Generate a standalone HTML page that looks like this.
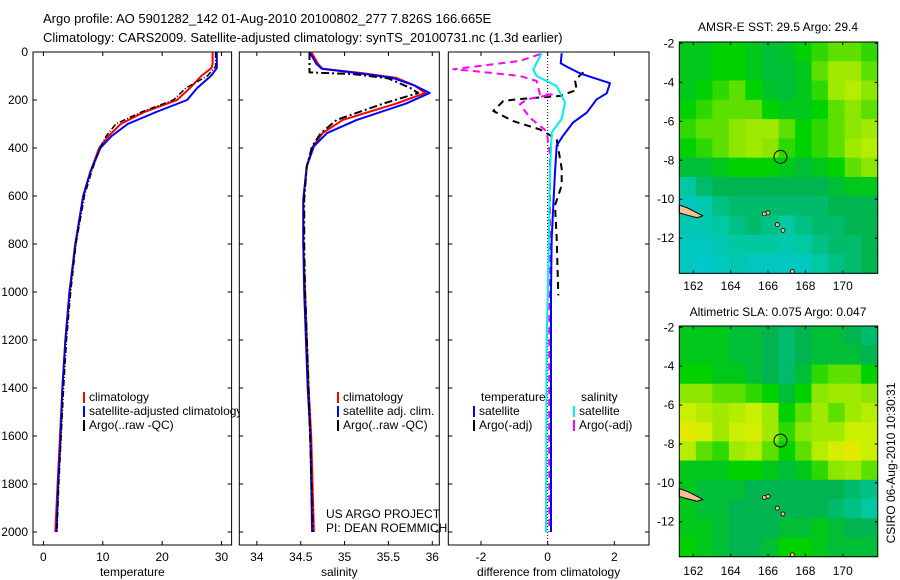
<!DOCTYPE html>
<html><head><meta charset="utf-8"><style>
html,body{margin:0;padding:0;background:#fff;}
svg{display:block;font-family:"Liberation Sans",sans-serif;}
</style></head><body>
<svg id="fig" width="900" height="580" viewBox="0 0 900 580" xmlns="http://www.w3.org/2000/svg">
<g id="plots"></g>
<text x="43" y="23" font-size="13">Argo profile: AO 5901282_142 01-Aug-2010 20100802_277 7.826S 166.665E</text>
<text x="43" y="42" font-size="13">Climatology: CARS2009. Satellite-adjusted climatology: synTS_20100731.nc (1.3d earlier)</text>
<text x="778" y="31" font-size="12" text-anchor="middle">AMSR-E SST: 29.5 Argo: 29.4</text>
<text x="778" y="316" font-size="12" text-anchor="middle">Altimetric SLA: 0.075 Argo: 0.047</text>
<text transform="translate(895,463) rotate(-90)" font-size="12" text-anchor="middle">CSIRO 06-Aug-2010 10:30:31</text>
<text x="326" y="518" font-size="12">US ARGO PROJECT</text>
<text x="326" y="532" font-size="12">PI: DEAN ROEMMICH</text>
</svg>
<script>
// ---- depth profile data ----
const tempDepth = [0,50,67,100,150,200,250,300,350,400,500,600,800,1000,1200,1400,1600,1800,2000];
const tempClim  = [28.5,28.5,28.3,26.6,24.7,22.5,17,13,11,9.4,7.9,6.7,5.35,4.4,3.7,3.2,2.8,2.4,2.0];
const tempSat   = [29.2,29.2,29.2,28.2,25.9,24.2,19,14.2,11.5,9.6,7.9,6.7,5.4,4.4,3.7,3.2,2.9,2.5,2.2];
const argoTDepth= [0,60,100,150,200,250,300,350,400,500,600,800,1000,1200,1400,1600,1800,2000];
const argoTemp  = [29,29,27.6,24,21.9,16.5,12.2,10.6,9.5,8.1,6.9,5.5,4.6,3.9,3.4,3.0,2.6,2.3];
const salDepth  = [0,50,70,88,108,140,171,215,283,338,393,476,615,800,1000,1400,1600,2000];
const salClim   = [34.62,34.7,34.75,35.2,35.59,35.8,35.92,35.59,34.98,34.75,34.64,34.57,34.53,34.53,34.55,34.59,34.62,34.65];
const salSat    = [34.6,34.68,34.74,35.15,35.55,35.8,35.97,35.7,35.14,34.8,34.65,34.57,34.53,34.53,34.54,34.58,34.61,34.63];
const argoSDepth= [0,85,92,110,150,171,215,283,338,393,476,615,800,1000,1400,2000];
const argoSal   = [34.6,34.6,35.1,35.5,35.75,35.84,35.44,34.91,34.73,34.63,34.57,34.54,34.54,34.55,34.59,34.64];
// ---- difference data ----
const dTSatDepth=[5,47,61,89,130,172,197,253,294,349,390,500,639,778,1000,1500,2000];
const dTSat     =[0.42,0.39,0.57,0.97,1.87,1.77,1.47,1.17,0.76,0.46,0.27,0.22,0.17,0.12,0.1,0.1,0.1];
const dSSatDepth=[5,73,100,142,210,279,335,500,917,1200,2000];
const dSSat     =[-0.18,-0.43,-0.33,0.27,0.52,0.42,0.12,0.07,0.02,-0.03,-0.05];
const dTArgoDepth=[84,118,158,183,197,204,246,288,323,351,365,486,556,639,778,1014];
const dTArgo     =[1.07,0.82,0.87,0.37,-0.93,-1.33,-1.63,-1.03,-0.23,0.12,0.27,0.42,0.42,0.22,0.27,0.32];
const dSArgoDepth=[9,37,72,79,100,121,176,177,197,218,274,330,427,566,772,1200,2000];
const dSArgo     =[-0.23,-0.83,-2.83,-2.23,-0.83,-0.33,-0.23,0.15,-0.63,-0.83,-0.53,-0.03,0.07,0.07,0.07,0.05,0.05];
// ---- tick labels ----
const depthTicks=[0,200,400,600,800,1000,1200,1400,1600,1800,2000];
const tempTicks=[0,10,20,30];
const salTicks=[34,34.5,35,35.5,36];
const diffTicks=[-2,0,2];
const lonTicks=[162,164,166,168,170];
const latTicks=[-2,-4,-6,-8,-10,-12];
// ---- map data (rows north->south, cols west->east) ----
const sstGrid=[
[0.45,0.45,0.5,0.5,0.45,0.4,0.42,0.5,0.55,0.6,0.6,0.55],
[0.45,0.45,0.5,0.5,0.45,0.4,0.4,0.45,0.6,0.7,0.7,0.6],
[0.45,0.5,0.55,0.6,0.5,0.42,0.4,0.45,0.55,0.7,0.75,0.65],
[0.5,0.55,0.6,0.6,0.6,0.5,0.45,0.45,0.5,0.6,0.65,0.6],
[0.55,0.6,0.6,0.65,0.7,0.7,0.6,0.5,0.55,0.6,0.65,0.7],
[0.5,0.55,0.6,0.65,0.7,0.65,0.55,0.5,0.55,0.6,0.7,0.75],
[0.4,0.4,0.45,0.5,0.5,0.5,0.45,0.4,0.45,0.5,0.6,0.65],
[0.2,0.3,0.35,0.35,0.35,0.35,0.35,0.35,0.35,0.4,0.45,0.45],
[0.1,0.15,0.25,0.3,0.3,0.3,0.3,0.3,0.3,0.35,0.35,0.35],
[0.15,0.15,0.2,0.25,0.3,0.25,0.2,0.25,0.3,0.3,0.35,0.35],
[0.1,0.1,0.15,0.2,0.2,0.2,0.15,0.2,0.25,0.3,0.3,0.35],
[0.1,0.05,0.1,0.15,0.1,0.1,0.1,0.1,0.2,0.25,0.3,0.35]];
const slaGrid=[
[0.45,0.45,0.45,0.4,0.4,0.35,0.3,0.35,0.4,0.4,0.35,0.3],
[0.45,0.45,0.45,0.4,0.4,0.35,0.3,0.35,0.4,0.4,0.4,0.35],
[0.5,0.5,0.45,0.45,0.4,0.35,0.3,0.4,0.55,0.6,0.6,0.5],
[0.65,0.65,0.6,0.6,0.55,0.5,0.4,0.5,0.65,0.7,0.7,0.65],
[0.8,0.75,0.7,0.75,0.8,0.7,0.5,0.6,0.7,0.6,0.7,0.75],
[0.9,0.85,0.7,0.8,0.85,0.7,0.55,0.65,0.7,0.7,0.8,0.8],
[0.75,0.6,0.55,0.7,0.75,0.6,0.5,0.6,0.75,0.85,0.9,0.8],
[0.45,0.45,0.45,0.5,0.5,0.45,0.4,0.45,0.55,0.65,0.7,0.6],
[0.45,0.4,0.4,0.4,0.35,0.35,0.35,0.35,0.35,0.35,0.3,0.25],
[0.45,0.4,0.4,0.35,0.35,0.35,0.35,0.35,0.35,0.3,0.25,0.2],
[0.45,0.45,0.4,0.35,0.35,0.35,0.4,0.4,0.45,0.4,0.35,0.35],
[0.5,0.45,0.4,0.35,0.35,0.4,0.5,0.5,0.45,0.4,0.4,0.4]];
const argoLon=166.665, argoLat=-7.826;

const NS='http://www.w3.org/2000/svg';
const root=document.getElementById('plots');
function mk(tag,attrs,parent){const e=document.createElementNS(NS,tag);for(const k in attrs)e.setAttribute(k,attrs[k]);(parent||root).appendChild(e);return e;}

const yTop=52, yBot=545;
const depthY=d=>52+d*0.24;

function panel(name,x0,x1,xmin,xmax,xticks,xlabel,showY){
  const g=mk('g',{});
  
  
  const sx=v=>x0+(v-xmin)/(xmax-xmin)*(x1-x0);
  mk('rect',{x:x0,y:yTop,width:x1-x0,height:yBot-yTop,fill:'#fff',stroke:'#000','stroke-width':1},g);
  depthTicks.forEach(d=>{const y=depthY(d);
    mk('line',{x1:x0,y1:y,x2:x0+4,y2:y,stroke:'#000'},g);
    mk('line',{x1:x1-4,y1:y,x2:x1,y2:y,stroke:'#000'},g);
    if(showY){const t=mk('text',{x:x0-5,y:y+4,'font-size':12,'text-anchor':'end'},g);t.textContent=d;
      
      }
  });
  xticks.forEach(v=>{const x=sx(v);
    mk('line',{x1:x,y1:yBot,x2:x,y2:yBot-4,stroke:'#000'},g);
    mk('line',{x1:x,y1:yTop,x2:x,y2:yTop+4,stroke:'#000'},g);
    const t=mk('text',{x:x,y:561,'font-size':12,'text-anchor':'middle'},g);t.textContent=v;
    
    
  });
  const t=mk('text',{x:(x0+x1)/2,y:576,'font-size':12,'text-anchor':'middle'},g);t.textContent=xlabel;
  
  
  return {g,sx};
}
function series(p,name,depths,vals,color,w,dash){
  const pts=depths.map((d,i)=>p.sx(vals[i]).toFixed(1)+','+depthY(d).toFixed(1)).join(' ');
  const a={points:pts,fill:'none',stroke:color,'stroke-width':w,'stroke-linejoin':'round'};
  if(dash)a['stroke-dasharray']=dash;
  const l=mk('polyline',a,p.g);
  
  
}
function legend(g,x,y,color,label,name){
  mk('rect',{x:x,y:y-9,width:2,height:11,fill:color},g);
  const t=mk('text',{x:x+6,y:y,'font-size':12},g);t.textContent=label;
  
  
}

const p1=panel('temperature-panel',33,231.6,-1.75,31.7,tempTicks,'temperature',true);
series(p1,'temp-climatology-line',tempDepth,tempClim,'#f00',2);
series(p1,'temp-satellite-line',tempDepth,tempSat,'#00f',2);
series(p1,'temp-argo-line',argoTDepth,argoTemp,'#000',1.5,'6 2 1 2');
legend(p1.g,83,401,'#f00','climatology','legend-climatology');
legend(p1.g,83,415,'#00f','satellite-adjusted climatology','legend-satellite');
legend(p1.g,83,429,'#000','Argo(..raw -QC)','legend-argo');

const p2=panel('salinity-panel',239.3,439.3,33.8,36.08,salTicks,'salinity',false);
series(p2,'sal-climatology-line',salDepth,salClim,'#f00',2);
series(p2,'sal-satellite-line',salDepth,salSat,'#00f',2);
series(p2,'sal-argo-line',argoSDepth,argoSal,'#000',2,'8 3 2 3');
legend(p2.g,337,401,'#f00','climatology','legend-climatology');
legend(p2.g,337,415,'#00f','satellite adj. clim.','legend-satellite');
legend(p2.g,337,429,'#000','Argo(..raw -QC)','legend-argo');

const p3=panel('difference-panel',448.3,649,-2.98,3.04,diffTicks,'difference from climatology',false);
mk('line',{x1:p3.sx(0),y1:yTop,x2:p3.sx(0),y2:yBot,stroke:'#000','stroke-dasharray':'1 2'},p3.g);
series(p3,'diff-temp-argo-line',dTArgoDepth,dTArgo,'#000',2,'7 5');
series(p3,'diff-sal-argo-line',dSArgoDepth,dSArgo,'#f0f',2,'7 5');
series(p3,'diff-temp-sat-line',dTSatDepth,dTSat,'#00f',2);
series(p3,'diff-sal-sat-line',dSSatDepth,dSSat,'#0ee',2);
{const t=mk('text',{x:481,y:401,'font-size':12},p3.g);t.textContent='temperature';
 
 const s=mk('text',{x:581,y:401,'font-size':12},p3.g);s.textContent='salinity';
 }
legend(p3.g,473,415,'#00f','satellite','legend-temp-satellite');
legend(p3.g,473,429,'#000','Argo(-adj)','legend-temp-argo');
legend(p3.g,573,415,'#0ee','satellite','legend-sal-satellite');
legend(p3.g,573,429,'#f0f','Argo(-adj)','legend-sal-argo');

// ---- maps ----
const stops=[[0,[0,200,220]],[0.2,[0,200,160]],[0.35,[0,180,80]],[0.5,[0,210,0]],[0.65,[140,230,0]],[0.8,[200,240,0]],[0.95,[240,230,0]],[1,[240,200,0]]];
function cmap(v){for(let i=1;i<stops.length;i++){if(v<=stops[i][0]){const a=stops[i-1],b=stops[i];const t=(v-a[0])/(b[0]-a[0]);
  return 'rgb('+a[1].map((c,k)=>Math.round(c+(b[1][k]-c)*t)).join(',')+')';}}return 'rgb(240,200,0)';}
function map(name,grid,top,bot,xAxisY){
  const x0=679.3,x1=877.7,lon0=161.25,lon1=171.87;
  const latTop=-2+(43.3-42)/19.4, pxPerLat=(bot-top)/((latTop)-(-13.8));
  const sx=lon=>x0+(lon-lon0)/(lon1-lon0)*(x1-x0);
  const sy=lat=>top+(latTop-lat)*pxPerLat;
  const g=mk('g',{});
  
  
  const nr=grid.length,nc=grid[0].length,cw=(x1-x0)/nc,ch=(bot-top)/nr;
  grid.forEach((row,r)=>row.forEach((v,c)=>{
    const e=mk('rect',{x:(x0+c*cw).toFixed(2),y:(top+r*ch).toFixed(2),width:(cw+0.5).toFixed(2),height:(ch+0.5).toFixed(2),fill:cmap(v)},g);
    
    
  }));
  mk('path',{d:`M${sx(161.25)},${sy(-10.3)} L${sx(161.7)},${sy(-10.45)} L${sx(162.0)},${sy(-10.6)} L${sx(162.5)},${sy(-10.85)} L${sx(162.2)},${sy(-10.95)} L${sx(161.6)},${sy(-10.8)} L${sx(161.25)},${sy(-10.7)} Z`,fill:'#f5c090',stroke:'#000','stroke-width':1},g);
  [[165.8,-10.75],[166.0,-10.7],[166.8,-11.6],[166.5,-11.3],[167.3,-13.7]].forEach(p=>mk('circle',{cx:sx(p[0]),cy:sy(p[1]),r:2,fill:'#f5c090',stroke:'#000','stroke-width':0.8},g));
  const c=mk('circle',{cx:sx(argoLon),cy:sy(argoLat),r:6.5,fill:'none',stroke:'#000','stroke-width':1},g);
  
  
  mk('rect',{x:x0,y:top,width:x1-x0,height:bot-top,fill:'none',stroke:'#000'},g);
  latTicks.forEach(l=>{const y=sy(l);
    mk('line',{x1:x0,y1:y,x2:x0+3,y2:y,stroke:'#000'},g);mk('line',{x1:x1-3,y1:y,x2:x1,y2:y,stroke:'#000'},g);
    const t=mk('text',{x:x0-5,y:y+4,'font-size':12,'text-anchor':'end'},g);t.textContent=l;
    });
  lonTicks.forEach(l=>{const x=sx(l);
    mk('line',{x1:x,y1:bot,x2:x,y2:bot-3,stroke:'#000'},g);mk('line',{x1:x,y1:top,x2:x,y2:top+3,stroke:'#000'},g);
    const t=mk('text',{x:x,y:xAxisY,'font-size':12,'text-anchor':'middle'},g);t.textContent=l;
    });
}
map('sst-map',sstGrid,42,273.3,290);
map('sla-map',slaGrid,326,556.7,575);
</script>
</body></html>
